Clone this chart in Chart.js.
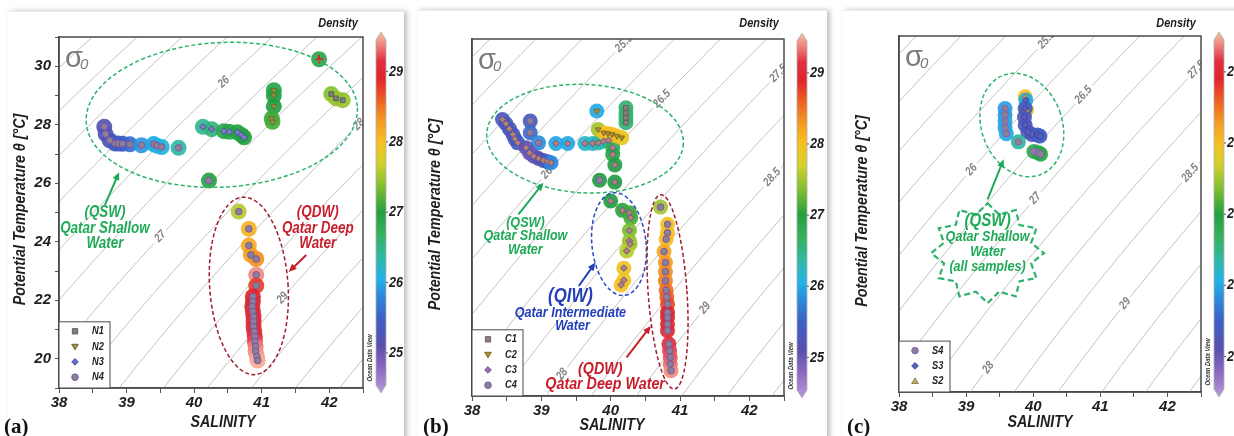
<!DOCTYPE html>
<html>
<head>
<meta charset="utf-8">
<script src="https://cdn.jsdelivr.net/npm/chart.js@4.4.1/dist/chart.umd.min.js"></script>
<style>
  body { margin: 0; width: 1234px; height: 436px; background: #fff; position: relative; overflow: hidden; }
  .card { position: absolute; background: #fff; border-top: 1px solid #ececec; box-shadow: 3px 0 5px rgba(0,0,0,0.25); }
  .wrap { position: absolute; top: 0; height: 436px; }
</style>
</head>
<body>
<div class="card" style="left:8px;top:11px;width:396px;height:430px"></div>
<div class="card" style="left:417px;top:10px;width:410px;height:430px"></div>
<div class="card" style="left:842px;top:10px;width:400px;height:430px"></div>
<div class="wrap" style="left:0;width:406px"><canvas id="chartA"></canvas></div>
<div class="wrap" style="left:412px;width:416px"><canvas id="chartB"></canvas></div>
<div class="wrap" style="left:838px;width:396px"><canvas id="chartC"></canvas></div>
<script>
const FAM = '"Liberation Sans Narrow", "Arial Narrow", "Liberation Sans", Arial, sans-serif';
const NARROW = 0.84; // no narrow face installed, so squeeze plugin text horizontally

// ---------- DATA (salinity, potential temp, density colour) ----------
// panel (a)
const aN1Sal = [42.03, 42.10, 42.20];
const aN1Temp = [29.05, 28.90, 28.84];
const aN1Dens = [27.40, 27.45, 27.45];

const aN2Sal = [41.18, 41.18, 41.18, 41.15, 41.16];
const aN2Temp = [29.18, 29.00, 28.63, 28.22, 28.10];
const aN2Dens = [26.90, 26.95, 27.00, 27.10, 27.15];

const aN3Sal = [40.13, 40.26, 40.44, 40.52, 40.64, 40.70, 40.74];
const aN3Temp = [27.93, 27.85, 27.78, 27.76, 27.74, 27.65, 27.57];
const aN3Dens = [26.45, 26.55, 26.85, 26.90, 26.95, 26.95, 27.00];

const aN4Sal = [38.67, 38.69, 38.75, 38.83, 38.88, 38.94, 39.05, 39.22, 39.40, 39.45, 39.52, 39.77, 40.22,
  40.66, 40.81, 40.81, 40.84, 40.92, 40.92, 40.92,
  40.87, 40.87, 40.86, 40.87, 40.88, 40.88, 40.88, 40.89, 40.90, 40.90, 40.91, 40.91, 40.93, 40.94];
const aN4Temp = [27.93, 27.68, 27.47, 27.36, 27.36, 27.35, 27.33, 27.30, 27.34, 27.28, 27.24, 27.21, 26.09,
  25.03, 24.44, 23.87, 23.55, 23.41, 22.87, 22.50,
  22.13, 21.96, 21.79, 21.61, 21.44, 21.27, 21.10, 20.93, 20.76, 20.59, 20.42, 20.25, 20.08, 19.94];
const aN4Dens = [25.20, 25.25, 25.30, 25.35, 25.40, 25.45, 25.60, 25.90, 26.00, 26.05, 26.10, 26.35, 26.95,
  27.60, 28.10, 28.15, 28.25, 28.35, 29.40, 28.75,
  28.95, 29.00, 29.00, 29.05, 29.05, 29.05, 29.10, 29.10, 29.15, 29.20, 29.35, 29.40, 29.45, 29.50];

const aTopSal = [41.85];
const aTopTemp = [30.24];
const aTopDens = [26.90];

// panel (b)
const bC1Sal = [40.22, 40.22, 40.22, 40.22];
const bC1Temp = [28.38, 28.22, 28.07, 27.92];
const bC1Dens = [26.60, 26.60, 26.60, 26.60];

const bC2Sal = [39.80, 39.82, 39.90, 39.96, 40.02, 40.09, 40.16];
const bC2Temp = [28.28, 27.71, 27.61, 27.59, 27.56, 27.51, 27.46];
const bC2Dens = [26.00, 27.50, 27.95, 28.00, 28.00, 28.00, 27.90];

const bC3Sal = [38.44, 38.49, 38.54, 38.59, 38.62, 38.66,
  38.78, 38.83, 38.89, 38.96, 39.03, 39.09, 39.14,
  39.21, 39.38, 39.63, 39.74, 39.82, 39.90, 39.97,
  40.03, 40.03, 40.06, 40.06,
  40.00, 40.17, 40.27, 40.29, 40.27, 40.27, 40.28, 40.23, 40.19, 40.19, 40.15];
const bC3Temp = [28.02, 27.89, 27.73, 27.56, 27.42, 27.30,
  27.15, 26.99, 26.89, 26.82, 26.76, 26.72, 26.69,
  27.28, 27.28, 27.28, 27.28, 27.30, 27.35, 27.38,
  27.15, 26.94, 26.62, 26.09,
  25.51, 25.22, 25.15, 24.99, 24.60, 24.28, 24.18, 23.97, 23.44, 23.07, 22.92];
const bC3Dens = [25.30, 25.30, 25.30, 25.30, 25.35, 25.40,
  25.05, 25.00, 25.00, 25.10, 25.20, 25.50, 25.80,
  26.00, 26.00, 26.20, 26.25, 26.30, 26.35, 26.40,
  26.75, 26.90, 27.00, 27.00,
  27.00, 27.05, 27.10, 27.15, 27.35, 27.45, 27.50, 27.60, 27.90, 27.95, 28.00];

const bC4Sal = [38.84, 38.84, 38.96, 39.84, 40.72,
  40.82, 40.82, 40.80, 40.77, 40.79, 40.79, 40.79, 40.80, 40.81, 40.82,
  40.82, 40.82, 40.82, 40.82, 40.84, 40.85, 40.86, 40.86, 40.87];
const bC4Temp = [27.97, 27.61, 27.30, 26.15, 25.32,
  24.79, 24.53, 24.33, 23.95, 23.61, 23.33, 23.05, 22.76, 22.55, 22.33,
  22.07, 21.92, 21.71, 21.51, 21.10, 20.89, 20.69, 20.48, 20.28];
const bC4Dens = [25.35, 25.60, 25.85, 27.00, 27.50,
  28.00, 28.00, 28.05, 28.20, 28.30, 28.35, 28.40, 28.50, 28.60, 28.70,
  28.90, 29.00, 29.00, 29.00, 29.15, 29.20, 29.25, 29.30, 29.40];

// panel (c)
const cS4Sal = [39.58, 39.58, 39.58, 39.58, 39.60, 39.78, 40.01, 40.08, 40.11];
const cS4Temp = [28.26, 28.06, 27.86, 27.66, 27.48, 27.23, 26.93, 26.89, 26.85];
const cS4Dens = [25.95, 25.95, 26.00, 26.00, 26.00, 26.40, 26.85, 26.90, 26.90];

const cS3Sal = [39.89, 39.88, 39.87, 39.88, 39.92, 39.98, 40.06, 40.10];
const cS3Temp = [28.52, 28.26, 28.00, 27.75, 27.54, 27.46, 27.44, 27.41];
const cS3Dens = [26.00, 25.40, 25.30, 25.30, 25.30, 25.30, 25.35, 25.40];

const cS2Sal = [39.88, 39.90];
const cS2Temp = [28.62, 28.22];
const cS2Dens = [28.00, 27.90];

// isopycnal levels (sigma-0) and which ones carry a label, with salinity of the label
const isoLevels = [23.5, 24, 24.5, 25, 25.5, 26, 26.5, 27, 27.5, 28, 28.5, 29, 29.5, 30, 30.5, 31];
const isoLabelsA = [[26, 40.44], [27, 39.50], [28, 42.44], [29, 41.31]];
const isoLabelsB = [[25.5, 40.19], [26, 39.08], [26.5, 40.74], [27.5, 42.42], [28, 39.30], [28.5, 42.33], [29, 41.36]];
const isoLabelsC = [[25.5, 40.20], [26, 39.08], [26.5, 40.75], [27, 40.03], [27.5, 42.43], [28, 39.33], [28.5, 42.34], [29, 41.37]];

const cbTicks = [25, 26, 27, 28, 29];
const cbMin = 24.43, cbMax = 29.56;

// ODV-like colour map for density
const cmapStops = [
  [24.43, '#b89ad8'], [24.80, '#8a66c0'], [25.10, '#5a4fae'], [25.50, '#3c60c6'], [25.85, '#2a90e0'],
  [26.05, '#22b2e6'], [26.35, '#2fb9a8'], [26.70, '#35b15a'], [27.00, '#22a040'], [27.35, '#7cbe30'],
  [27.70, '#d2d02c'], [28.00, '#f6c022'], [28.30, '#f39a22'], [28.60, '#ee5e22'], [28.90, '#e0242c'],
  [29.15, '#e0303e'], [29.35, '#ee7a78'], [29.56, '#f8c2a2']
];

const GREEN = '#1faa58', RED = '#c81e2c', BLUE = '#2340b8';

// ---------- helpers ----------
function hexRgb(h) { return [parseInt(h.slice(1, 3), 16), parseInt(h.slice(3, 5), 16), parseInt(h.slice(5, 7), 16)]; }
function densityColor(v, alpha) {
  let i = 0;
  while (i < cmapStops.length - 2 && v > cmapStops[i + 1][0]) i++;
  const [v0, c0] = cmapStops[i], [v1, c1] = cmapStops[i + 1];
  const f = Math.max(0, Math.min(1, (v - v0) / (v1 - v0)));
  const a = hexRgb(c0), b = hexRgb(c1);
  const c = a.map((x, k) => Math.round(x + (b[k] - x) * f));
  return `rgba(${c[0]},${c[1]},${c[2]},${alpha})`;
}

// UNESCO 1980 equation of state at p = 0 -> sigma-0
function sigma0(S, T) {
  const rw = 999.842594 + 6.793952e-2 * T - 9.095290e-3 * T * T + 1.001685e-4 * T ** 3 - 1.120083e-6 * T ** 4 + 6.536332e-9 * T ** 5;
  const A = 8.24493e-1 - 4.0899e-3 * T + 7.6438e-5 * T * T - 8.2467e-7 * T ** 3 + 5.3875e-9 * T ** 4;
  const B = -5.72466e-3 + 1.0227e-4 * T - 1.6546e-6 * T * T;
  return rw + A * S + B * S ** 1.5 + 4.8314e-4 * S * S - 1000;
}
function tempOnIsopycnal(S, sig) {
  let lo = -2, hi = 40;
  for (let k = 0; k < 40; k++) {
    const mid = (lo + hi) / 2;
    if (sigma0(S, mid) > sig) lo = mid; else hi = mid;
  }
  return (lo + hi) / 2;
}

// text squeezed horizontally (stands in for Arial Narrow)
function narrowText(ctx, txt, x, y, rot) {
  ctx.save();
  ctx.translate(x, y);
  if (rot) ctx.rotate(rot);
  ctx.scale(NARROW, 1);
  ctx.fillText(txt, 0, 0);
  ctx.restore();
}

const MARK = {
  square: { style: 'rect', rot: 0 },
  triDown: { style: 'triangle', rot: 180 },
  triUp: { style: 'triangle', rot: 0 },
  diamond: { style: 'rectRot', rot: 0 },
  circle: { style: 'circle', rot: 0 },
  plus: { style: 'cross', rot: 0 }
};

function drawMarker(ctx, kind, x, y, r, fill, edge) {
  ctx.beginPath();
  if (kind === 'circle') ctx.arc(x, y, r, 0, Math.PI * 2);
  else if (kind === 'square') ctx.rect(x - r * 0.8, y - r * 0.8, r * 1.6, r * 1.6);
  else if (kind === 'diamond') { ctx.moveTo(x, y - r); ctx.lineTo(x + r, y); ctx.lineTo(x, y + r); ctx.lineTo(x - r, y); ctx.closePath(); }
  else if (kind === 'triDown') { ctx.moveTo(x - r, y - r * 0.7); ctx.lineTo(x + r, y - r * 0.7); ctx.lineTo(x, y + r); ctx.closePath(); }
  else if (kind === 'triUp') { ctx.moveTo(x - r, y + r * 0.7); ctx.lineTo(x + r, y + r * 0.7); ctx.lineTo(x, y - r); ctx.closePath(); }
  ctx.fillStyle = fill; ctx.fill();
  ctx.strokeStyle = edge; ctx.lineWidth = 1; ctx.stroke();
}

function drawArrow(ctx, x0, y0, x1, y1, color) {
  const ang = Math.atan2(y1 - y0, x1 - x0), hl = 8, hw = 3.5;
  ctx.strokeStyle = color; ctx.fillStyle = color; ctx.lineWidth = 2; ctx.setLineDash([]);
  ctx.beginPath();
  ctx.moveTo(x0, y0);
  ctx.lineTo(x1 - Math.cos(ang) * hl * 0.8, y1 - Math.sin(ang) * hl * 0.8);
  ctx.stroke();
  ctx.beginPath();
  ctx.moveTo(x1, y1);
  ctx.lineTo(x1 - Math.cos(ang) * hl - Math.sin(ang) * hw, y1 - Math.sin(ang) * hl + Math.cos(ang) * hw);
  ctx.lineTo(x1 - Math.cos(ang) * hl + Math.sin(ang) * hw, y1 - Math.sin(ang) * hl - Math.cos(ang) * hw);
  ctx.closePath();
  ctx.fill();
}

// ---------- panel description ----------
const panels = [
  {
    canvas: 'chartA', width: 406,
    area: { left: 59, top: 37, right: 363, bottom: 388 },
    yMin: 19, yMax: 31, yTitleX: 20, xTitle: [223, 422], letter: ['(a)', 4], cb: [-5, 5], halo: 8,
    isoLabels: isoLabelsA,
    series: [
      { label: 'N1', sal: aN1Sal, temp: aN1Temp, dens: aN1Dens, marker: 'square', fill: '#7f7f7f', edge: '#5f5f5f' },
      { label: 'N2', sal: aN2Sal, temp: aN2Temp, dens: aN2Dens, marker: 'triDown', fill: '#a0964a', edge: '#6d6a2e' },
      { label: 'N3', sal: aN3Sal, temp: aN3Temp, dens: aN3Dens, marker: 'diamond', fill: '#7f80b0', edge: '#3f4fb8', legFill: '#6c6cc0' },
      { label: 'N4', sal: aN4Sal, temp: aN4Temp, dens: aN4Dens, marker: 'circle', fill: '#8b8195', edge: '#7a55a5' },
      { label: '', sal: aTopSal, temp: aTopTemp, dens: aTopDens, marker: 'plus', fill: '#e0202a', edge: '#e0202a', noLegend: true }
    ],
    notes: [
      { kind: 'ellipse', s: 40.41, t: 28.34, rs: 2.01, rt: 2.47, rot: -3, color: '#2db36b' },
      { kind: 'ellipse', s: 40.81, t: 22.49, rs: 0.58, rt: 3.04, rot: -4, color: '#a01c28' },
      { kind: 'text', s: 38.68, t: 24.98, text: '(QSW)', size: 16, color: GREEN },
      { kind: 'text', s: 38.68, t: 24.45, text: 'Qatar Shallow', size: 16, color: GREEN },
      { kind: 'text', s: 38.68, t: 23.92, text: 'Water', size: 16, color: GREEN },
      { kind: 'arrow', s0: 38.68, t0: 25.26, s1: 38.89, t1: 26.38, color: GREEN },
      { kind: 'text', s: 41.83, t: 24.98, text: '(QDW)', size: 16, color: RED },
      { kind: 'text', s: 41.83, t: 24.45, text: 'Qatar Deep', size: 16, color: RED },
      { kind: 'text', s: 41.83, t: 23.92, text: 'Water', size: 16, color: RED },
      { kind: 'arrow', s0: 41.66, t0: 23.55, s1: 41.40, t1: 22.97, color: RED }
    ]
  },
  {
    canvas: 'chartB', width: 416,
    area: { left: 60, top: 39, right: 372, bottom: 396 },
    yMin: 19.5, yMax: 30.5, yTitleX: 23, xTitle: [200, 425], letter: ['(b)', 11], cb: [-6, 2], halo: 7.5,
    isoLabels: isoLabelsB,
    series: [
      { label: 'C1', sal: bC1Sal, temp: bC1Temp, dens: bC1Dens, marker: 'square', fill: '#8a7f7a', edge: '#6a6060' },
      { label: 'C2', sal: bC2Sal, temp: bC2Temp, dens: bC2Dens, marker: 'triDown', fill: '#b8902f', edge: '#7c6a24' },
      { label: 'C3', sal: bC3Sal, temp: bC3Temp, dens: bC3Dens, marker: 'diamond', fill: '#b98466', edge: '#6452a8', legFill: '#9a72a0' },
      { label: 'C4', sal: bC4Sal, temp: bC4Temp, dens: bC4Dens, marker: 'circle', fill: '#8b8195', edge: '#7a55a5' }
    ],
    notes: [
      { kind: 'ellipse', s: 39.63, t: 27.43, rs: 1.42, rt: 1.67, rot: 3, color: '#2db36b' },
      { kind: 'ellipse', s: 40.12, t: 24.18, rs: 0.39, rt: 1.59, rot: -6, color: '#2a48c0' },
      { kind: 'ellipse', s: 40.82, t: 22.71, rs: 0.28, rt: 3.00, rot: -4, color: '#a01c28' },
      { kind: 'text', s: 38.77, t: 24.84, text: '(QSW)', size: 15, color: GREEN },
      { kind: 'text', s: 38.77, t: 24.42, text: 'Qatar Shallow', size: 15, color: GREEN },
      { kind: 'text', s: 38.77, t: 24.00, text: 'Water', size: 15, color: GREEN },
      { kind: 'arrow', s0: 38.67, t0: 25.10, s1: 39.03, t1: 26.07, color: GREEN },
      { kind: 'text', s: 39.42, t: 22.58, text: '(QIW)', size: 20, color: BLUE },
      { kind: 'text', s: 39.42, t: 22.07, text: 'Qatar Intermediate', size: 15, color: BLUE },
      { kind: 'text', s: 39.45, t: 21.66, text: 'Water', size: 15, color: BLUE },
      { kind: 'arrow', s0: 39.54, t0: 22.89, s1: 39.78, t1: 23.61, color: BLUE },
      { kind: 'text', s: 39.85, t: 20.33, text: '(QDW)', size: 17, color: RED },
      { kind: 'text', s: 39.92, t: 19.87, text: 'Qatar Deep Water', size: 17, color: RED },
      { kind: 'arrow', s0: 40.23, t0: 20.69, s1: 40.58, t1: 21.66, color: RED }
    ]
  },
  {
    canvas: 'chartC', width: 396,
    area: { left: 61, top: 36, right: 363, bottom: 392 },
    yMin: 19.5, yMax: 30.5, yTitleX: 24, xTitle: [202, 422], letter: ['(c)', 9], cb: [-4, 5], halo: 7.5,
    isoLabels: isoLabelsC,
    series: [
      { label: 'S4', sal: cS4Sal, temp: cS4Temp, dens: cS4Dens, marker: 'circle', fill: '#8b7f98', edge: '#8b5fb0' },
      { label: 'S3', sal: cS3Sal, temp: cS3Temp, dens: cS3Dens, marker: 'diamond', fill: '#5a5fb8', edge: '#3b43a0' },
      { label: 'S2', sal: cS2Sal, temp: cS2Temp, dens: cS2Dens, marker: 'triUp', fill: '#c7b24a', edge: '#8a8060' }
    ],
    notes: [
      { kind: 'ellipse', s: 39.83, t: 27.75, rs: 0.60, rt: 1.64, rot: -20, color: '#2db36b' },
      { kind: 'star', s: 39.32, t: 23.79, rs: 0.84, rt: 1.54, color: '#2db36b' },
      { kind: 'arrow', s0: 39.32, t0: 25.45, s1: 39.56, t1: 26.69, color: GREEN },
      { kind: 'text', s: 39.32, t: 24.78, text: '(QSW)', size: 18, color: GREEN },
      { kind: 'text', s: 39.32, t: 24.28, text: 'Qatar Shallow', size: 15, color: GREEN },
      { kind: 'text', s: 39.32, t: 23.82, text: 'Water', size: 15, color: GREEN },
      { kind: 'text', s: 39.32, t: 23.37, text: '(all samples)', size: 15, color: GREEN }
    ]
  }
];

// ---------- build one T-S chart ----------
function buildChart(P) {
  const H = 436;
  const datasets = [];
  P.series.forEach(sr => {
    const pts = sr.sal.map((s, i) => ({ x: s, y: sr.temp[i] }));
    // density-coloured halo
    datasets.push({
      label: sr.label + ' density', data: pts, order: 2,
      pointRadius: P.halo, pointHoverRadius: P.halo, pointBorderWidth: 0,
      pointBackgroundColor: c => densityColor(sr.dens[c.dataIndex], 0.92)
    });
    // sample marker
    const st = MARK[sr.marker];
    datasets.push({
      label: sr.label, data: pts, order: 1,
      pointStyle: st.style, pointRotation: st.rot,
      pointRadius: sr.marker === 'plus' ? 4 : 3.3, pointHoverRadius: 3.3,
      pointBackgroundColor: sr.fill, pointBorderColor: sr.edge,
      pointBorderWidth: sr.marker === 'plus' ? 2 : 1
    });
  });

  const tickFont = { family: FAM, size: 15, weight: 'bold', style: 'italic' };

  const tsPlugin = {
    id: 'ts_' + P.canvas,
    beforeDatasetsDraw(chart) {
      const { ctx, chartArea: a, scales: { x, y } } = chart;
      ctx.save();
      ctx.beginPath();
      ctx.rect(a.left, a.top, a.right - a.left, a.bottom - a.top);
      ctx.clip();
      // isopycnals
      ctx.strokeStyle = '#c2c2c2';
      ctx.lineWidth = 1;
      isoLevels.forEach(lev => {
        ctx.beginPath();
        for (let i = 0; i <= 60; i++) {
          const s = 37.5 + i * 0.1;
          const px = x.getPixelForValue(s), py = y.getPixelForValue(tempOnIsopycnal(s, lev));
          if (i === 0) ctx.moveTo(px, py); else ctx.lineTo(px, py);
        }
        ctx.stroke();
      });
      // isopycnal labels
      ctx.font = `bold italic 12px ${FAM}`;
      ctx.textAlign = 'center';
      ctx.textBaseline = 'middle';
      P.isoLabels.forEach(([lev, s]) => {
        const px = x.getPixelForValue(s), py = y.getPixelForValue(tempOnIsopycnal(s, lev));
        const qx = x.getPixelForValue(s + 0.05), qy = y.getPixelForValue(tempOnIsopycnal(s + 0.05, lev));
        const ang = Math.atan2(qy - py, qx - px);
        const txt = String(lev);
        const w = ctx.measureText(txt).width * NARROW + 6;
        ctx.save();
        ctx.translate(px, py);
        ctx.rotate(ang);
        ctx.fillStyle = '#fff';
        ctx.fillRect(-w / 2, -6, w, 12);
        ctx.fillStyle = '#858585';
        narrowText(ctx, txt, 0, 0);
        ctx.restore();
      });
      ctx.restore();
    },
    afterDatasetsDraw(chart) {
      const { ctx, scales: { x, y } } = chart;
      const px = s => x.getPixelForValue(s), py = t => y.getPixelForValue(t);
      P.notes.forEach(n => {
        ctx.save();
        if (n.kind === 'ellipse') {
          ctx.strokeStyle = n.color; ctx.lineWidth = 1.5; ctx.setLineDash([4, 2.5]);
          ctx.beginPath();
          ctx.ellipse(px(n.s), py(n.t), Math.abs(px(n.s + n.rs) - px(n.s)), Math.abs(py(n.t + n.rt) - py(n.t)),
            n.rot * Math.PI / 180, 0, Math.PI * 2);
          ctx.stroke();
        } else if (n.kind === 'star') {
          const cx = px(n.s), cy = py(n.t);
          const rx = Math.abs(px(n.s + n.rs) - cx), ry = Math.abs(py(n.t + n.rt) - cy);
          ctx.strokeStyle = n.color; ctx.lineWidth = 2.2; ctx.setLineDash([6, 3.5]);
          ctx.beginPath();
          for (let k = 0; k < 24; k++) {
            const ang = -Math.PI / 2 + k * Math.PI / 12;
            const f = k % 2 === 0 ? 1 : 0.8;
            const xx = cx + Math.cos(ang) * rx * f, yy = cy + Math.sin(ang) * ry * f;
            if (k === 0) ctx.moveTo(xx, yy); else ctx.lineTo(xx, yy);
          }
          ctx.closePath();
          ctx.stroke();
        } else if (n.kind === 'arrow') {
          drawArrow(ctx, px(n.s0), py(n.t0), px(n.s1), py(n.t1), n.color);
        } else if (n.kind === 'text') {
          ctx.font = `bold italic ${n.size}px ${FAM}`;
          ctx.fillStyle = n.color;
          ctx.textAlign = 'center';
          ctx.textBaseline = 'middle';
          narrowText(ctx, n.text, px(n.s), py(n.t));
        }
        ctx.restore();
      });
    },
    afterDraw(chart) {
      const { ctx, chartArea: a } = chart;
      ctx.save();
      // plot frame
      ctx.strokeStyle = '#4a4a4a';
      ctx.lineWidth = 1.5;
      ctx.strokeRect(a.left, a.top, a.right - a.left, a.bottom - a.top);

      // sigma-0 tag
      ctx.fillStyle = '#7b7b7b';
      ctx.textAlign = 'left';
      ctx.textBaseline = 'alphabetic';
      ctx.font = '29px "Liberation Sans", Arial, sans-serif';
      ctx.fillText('σ', a.left + 6, a.top + 30);
      ctx.font = 'italic 15px "Liberation Sans", Arial, sans-serif';
      ctx.fillText('0', a.left + 21, a.top + 32);

      // colour bar
      const bx = a.right + 13, bw = 10, top = a.top + P.cb[0], bot = a.bottom + P.cb[1], tip = 8;
      const vToY = v => bot - (v - cbMin) / (cbMax - cbMin) * (bot - top);
      const grad = ctx.createLinearGradient(0, bot, 0, top);
      cmapStops.forEach(([v, c]) => grad.addColorStop((v - cbMin) / (cbMax - cbMin), c));
      ctx.beginPath();
      ctx.moveTo(bx + bw / 2, top);
      ctx.lineTo(bx + bw, top + tip);
      ctx.lineTo(bx + bw, bot - tip);
      ctx.lineTo(bx + bw / 2, bot);
      ctx.lineTo(bx, bot - tip);
      ctx.lineTo(bx, top + tip);
      ctx.closePath();
      ctx.fillStyle = grad;
      ctx.fill();
      ctx.strokeStyle = '#b0b0b0';
      ctx.lineWidth = 0.8;
      ctx.stroke();
      ctx.fillStyle = '#1e1e1e';
      ctx.strokeStyle = '#333';
      ctx.font = `bold italic 15px ${FAM}`;
      ctx.textBaseline = 'middle';
      ctx.textAlign = 'left';
      cbTicks.forEach(v => {
        const yy = vToY(v);
        ctx.beginPath();
        ctx.moveTo(bx + bw, yy); ctx.lineTo(bx + bw + 2, yy);
        ctx.stroke();
        narrowText(ctx, String(v), bx + bw + 3, yy);
      });
      // colour bar title
      ctx.font = `bold italic 13px ${FAM}`;
      ctx.textAlign = 'center';
      narrowText(ctx, 'Density', a.right - 25, 23);
      // ODV credit
      ctx.font = `bold italic 7px ${FAM}`;
      ctx.fillStyle = '#333';
      narrowText(ctx, 'Ocean Data View', a.right + 7, a.bottom - 30, -Math.PI / 2);

      // axis titles
      ctx.font = `bold italic 17px ${FAM}`;
      ctx.fillStyle = '#1e1e1e';
      ctx.textAlign = 'center';
      ctx.textBaseline = 'middle';
      narrowText(ctx, 'SALINITY', P.xTitle[0], P.xTitle[1]);
      narrowText(ctx, 'Potential Temperature θ [°C]', P.yTitleX, (a.top + a.bottom) / 2 - 3, -Math.PI / 2);

      // panel letter
      ctx.font = 'bold 21px "Liberation Serif", "Times New Roman", serif';
      ctx.textAlign = 'left';
      ctx.textBaseline = 'alphabetic';
      ctx.fillStyle = '#111';
      ctx.fillText(P.letter[0], P.letter[1], 433);

      // inset legend
      const items = P.series.filter(s => !s.noLegend);
      const step = 15.3, bh = items.length * step + 5, bw2 = 51;
      const lx = a.left, ly = a.bottom - bh;
      ctx.fillStyle = '#fff';
      ctx.fillRect(lx, ly, bw2, bh);
      ctx.strokeStyle = '#4a4a4a';
      ctx.lineWidth = 1;
      ctx.strokeRect(lx, ly, bw2, bh);
      items.forEach((s, i) => {
        const yy = ly + 9.5 + i * step;
        drawMarker(ctx, s.marker, lx + 16, yy, 3.3, s.legFill || s.fill, s.edge);
        ctx.fillStyle = '#222';
        ctx.font = `bold italic 11px ${FAM}`;
        ctx.textAlign = 'left';
        ctx.textBaseline = 'middle';
        narrowText(ctx, s.label, lx + 33, yy);
      });
      ctx.restore();
    }
  };

  return new Chart(document.getElementById(P.canvas), {
    type: 'scatter',
    data: { datasets },
    options: {
      responsive: true,
      maintainAspectRatio: false,
      animation: false,
      events: [],
      layout: { padding: { top: P.area.top, right: P.width - P.area.right, left: 0, bottom: 0 } },
      plugins: { legend: { display: false }, tooltip: { enabled: false } },
      scales: {
        x: {
          type: 'linear', min: 38, max: 42.5,
          afterBuildTicks: s => { s.ticks = s.ticks.filter(t => Math.abs(t.value * 2 - Math.round(t.value * 2)) < 1e-6); },
          ticks: {
            stepSize: 0.5, autoSkip: false, maxRotation: 0, padding: 1, color: '#1e1e1e', font: tickFont,
            callback: v => Number.isInteger(v) ? String(v) : ''
          },
          grid: { drawOnChartArea: false, tickLength: 5, color: '#555' },
          border: { color: '#4a4a4a', width: 1.5 },
          afterFit: s => { s.height = H - P.area.bottom; }
        },
        y: {
          type: 'linear', min: P.yMin, max: P.yMax,
          afterBuildTicks: s => { s.ticks = s.ticks.filter(t => Number.isInteger(t.value)); },
          ticks: {
            stepSize: 1, autoSkip: false, padding: 4, color: '#1e1e1e', font: tickFont,
            callback: v => v % 2 === 0 ? String(v) : ''
          },
          grid: { drawOnChartArea: false, tickLength: 4, color: '#555' },
          border: { color: '#4a4a4a', width: 1.5 },
          afterFit: s => { s.width = P.area.left; }
        }
      }
    },
    plugins: [tsPlugin]
  });
}

panels.forEach(buildChart);
</script>
</body>
</html>
